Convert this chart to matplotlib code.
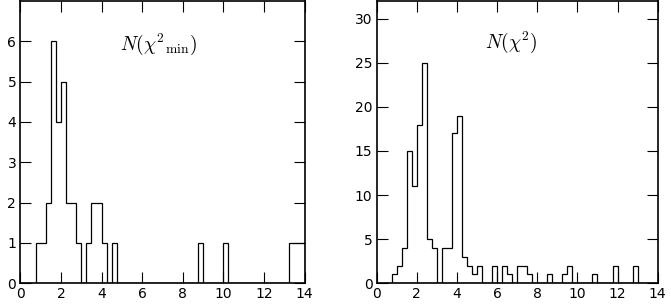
import numpy as np
import matplotlib
matplotlib.use("Agg")
import matplotlib.pyplot as plt

plt.rcParams['mathtext.fontset'] = 'cm'
plt.rcParams['font.family'] = 'DejaVu Sans'

# bin grid, 0.25 wide from 0 to 14
edges = np.arange(0, 14.001, 0.25)

# N(chi^2_min) counts per bin
counts_min = [0, 0, 0, 1, 1, 2, 6, 4, 5, 2, 2, 1, 0, 1, 2, 2,
              1, 0, 1, 0, 0, 0, 0, 0, 0, 0, 0, 0, 0, 0, 0, 0,
              0, 0, 0, 1, 0, 0, 0, 0, 1, 0, 0, 0, 0, 0, 0, 0,
              0, 0, 0, 0, 0, 1, 1, 1]

# N(chi^2) counts per bin
counts_all = [0, 0, 0, 1, 2, 4, 15, 11, 18, 25, 5, 4, 0, 4, 4, 17,
              19, 3, 2, 1, 2, 0, 0, 2, 0, 2, 1, 0, 2, 2, 1, 0,
              0, 0, 1, 0, 0, 1, 2, 0, 0, 0, 0, 1, 0, 0, 0, 2,
              0, 0, 0, 2, 0, 0, 0, 0]

xticks = [0, 2, 4, 6, 8, 10, 12, 14]
yticks_min = [0, 1, 2, 3, 4, 5, 6]
yticks_all = [0, 5, 10, 15, 20, 25, 30]

W, H = 671, 306
fig = plt.figure(figsize=(W / 100, H / 100), dpi=100)
ax1 = fig.add_axes([20.4 / W, (H - 283.3) / H, 284.2 / W, 282.3 / H])
ax2 = fig.add_axes([376.7 / W, (H - 283.3) / H, 281.0 / W, 282.3 / H])

def style(ax, yticks, ymax):
	ax.set_xlim(0, 14)
	ax.set_ylim(0, ymax)
	ax.set_xticks(xticks)
	ax.set_yticks(yticks)
	ax.tick_params(direction='in', length=8, width=0.8, top=True, right=True,
	               labelsize=10, pad=3, colors='black')
	for s in ax.spines.values():
		s.set_linewidth(1.2)

ax1.stairs(counts_min, edges, color='black', linewidth=0.9, baseline=0)
style(ax1, yticks_min, 7)
ax1.text(0.485, 0.845, r'$N(\chi^2{}_{\rm min})$', transform=ax1.transAxes,
         ha='center', va='center', fontsize=14)

ax2.stairs(counts_all, edges, color='black', linewidth=0.9, baseline=0)
style(ax2, yticks_all, 32)
ax2.text(0.478, 0.855, r'$N(\chi^2)$', transform=ax2.transAxes,
         ha='center', va='center', fontsize=14)

fig.savefig('out.png', dpi=100)
